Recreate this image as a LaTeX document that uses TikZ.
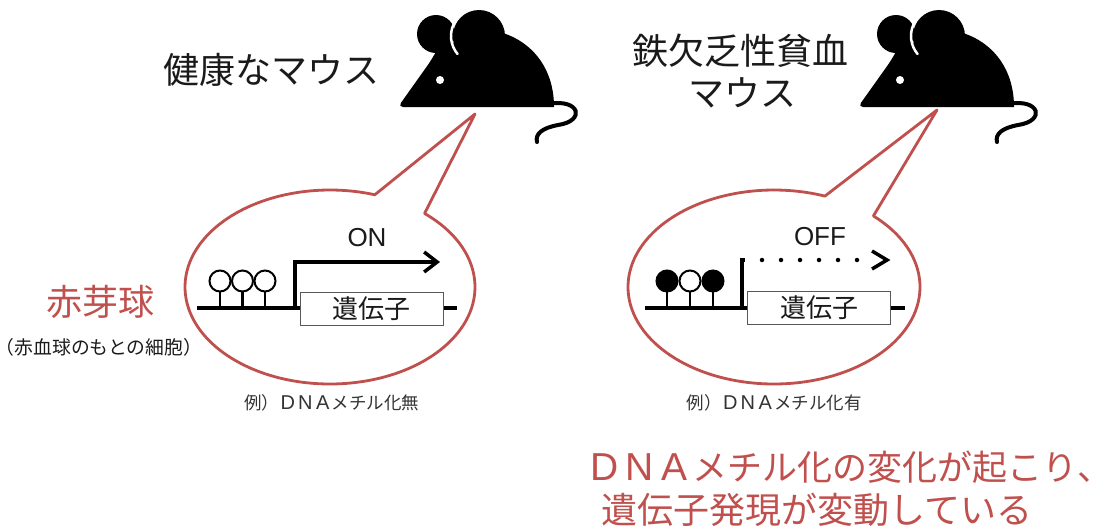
\documentclass[tikz,border=0pt]{standalone}
\usepackage{fontspec}
\setmainfont{Noto Sans CJK JP}
\newfontfamily\latinfont{Liberation Sans}
\usetikzlibrary{arrows.meta}
\definecolor{accent}{HTML}{C0504D}
\definecolor{ink}{HTML}{1A1A1A}
\definecolor{softink}{HTML}{333333}
% a Latin letter set in a full-width cell: cell width, font size, letter
\newcommand\cellchar[3]{\makebox[#1pt][c]{\latinfont\fontsize{#2}{#2}\selectfont #3}}
\newcommand\smallDNA{\cellchar{17.5}{20}{D}\cellchar{17.5}{20}{N}\cellchar{17.5}{20}{A}}
\newcommand\bigDNA{\cellchar{35}{39}{D}\cellchar{35}{39}{N}\cellchar{35}{39}{A}}
\begin{document}
\begin{tikzpicture}[x=1pt,y=-1pt,
  txt/.style={inner sep=0pt, text=ink},
  big/.style={txt, font=\fontsize{36}{36}\selectfont},
  note/.style={inner sep=0pt, text=softink, font=\fontsize{17.5}{17.5}\selectfont},
  bubble/.style={draw=accent, line width=2.8pt, fill=white, line join=round},
  strand/.style={line width=3.5pt},
  stem/.style={line width=2.5pt},
  site/.style={line width=2pt, draw=black},
  genebox/.style={draw=black!65, line width=1pt, fill=white, inner sep=0pt,
    minimum width=143pt, minimum height=33pt, text=ink,
    font=\fontsize{26}{26}\selectfont},
  mouse/.pic={
    % ears and body
    \fill (436,34) circle[radius=19];
    \fill (479,36) circle[radius=26];
    \fill[rounded corners=5pt] (480,107) -- (398,107) -- (430,62)
      [sharp corners] -- (440,45) -- (479,38) -- (503,33)
      .. controls (536,44) and (554,72) .. (554,107) -- cycle;
    % ear rim and eye
    \draw[white, line width=2.5pt, line cap=round]
      (479,36) ++(140:28) arc[start angle=140, end angle=205, radius=28];
    \fill[white] (440,80) circle[radius=4];
    % tail
    \draw[line width=4pt, line cap=round] (548,104)
      .. controls (580,98) and (586,121) .. (558,125)
      .. controls (542,128) and (535,134) .. (537,142);
  }]
\useasboundingbox (0,0) rectangle (1094,531);

% mice
\pic at (0,0) {mouse};
\pic at (460,0) {mouse};

% titles
\node[big] (healthy) at (271.5,70) {健康なマウス};
\node[big] (anemia1) at (740,51) {鉄欠乏性貧血};
\node[big] (anemia2) at (742,93) {マウス};

% speech bubbles
\coordinate (c1) at (330,287);
\coordinate (tip1) at (475,114);
\draw[bubble] ([shift={(-49.3:145 and 97)}]c1)
  arc[start angle=-49.3, end angle=288, x radius=145, y radius=97]
  -- (tip1) -- cycle;
\coordinate (c2) at (774,287);
\coordinate (tip2) at (937,110);
\draw[bubble] ([shift={(-47.1:146 and 97)}]c2)
  arc[start angle=-47.1, end angle=290.4, x radius=146, y radius=97]
  -- (tip2) -- cycle;

% healthy: unmethylated promoter, gene on
\draw[strand] (197,308) -- (457,308);
\foreach \x in {220,242.5,265} {
  \draw[stem] (\x,292) -- (\x,308);
  \draw[site, fill=white] (\x,281) circle[radius=10.5];
}
\draw[strand, -{Straight Barb[length=13pt,width=20pt]}]
  (295,308) -- (295,262) -- (440,262);
\node[genebox] (gene1) at (371.5,308.5) {遺伝子};
\node[txt, font=\latinfont\fontsize{26}{26}\selectfont] (on) at (367,238) {ON};
\node[note] (ex1) at (331.5,403) {例）\smallDNA メチル化無};

% anaemic: methylated promoter, gene off
\draw[strand] (645,308) -- (905,308);
\foreach \x/\f in {667/black,690/white,713/black} {
  \draw[stem] (\x,292) -- (\x,308);
  \draw[site, fill=\f] (\x,281) circle[radius=10.5];
}
\draw[strand] (742,308) -- (742,260) -- (745,260);
\draw[line width=4.5pt, line cap=round, dash pattern=on 0pt off 19pt]
  (762,260) -- (860,260);
\draw[line width=3.5pt] (872,251) -- (887,260) -- (872,269);
\node[genebox] (gene2) at (819,308) {遺伝子};
\node[txt, font=\latinfont\fontsize{26}{26}\selectfont] (off) at (820,237) {OFF};
\node[note] (ex2) at (774,403) {例）\smallDNA メチル化有};

% cell type
\node[inner sep=0pt, text=accent, font=\fontsize{36}{36}\selectfont] (ery) at (100,302) {赤芽球};
\node[txt, font=\fontsize{18.8}{18.8}\selectfont] (erynote) at (99,347) {（赤血球のもとの細胞）};

% conclusion
\node[inner sep=0pt, text=accent, anchor=west, font=\fontsize{35}{35}\selectfont]
  (concl1) at (587,467) {\bigDNA メチル化の変化が起こり\makebox[0.45em][l]{、}};
\node[inner sep=0pt, text=accent, anchor=west, font=\fontsize{36}{36}\selectfont]
  (concl2) at (601,510) {遺伝子発現が変動している};
\end{tikzpicture}
\end{document}
